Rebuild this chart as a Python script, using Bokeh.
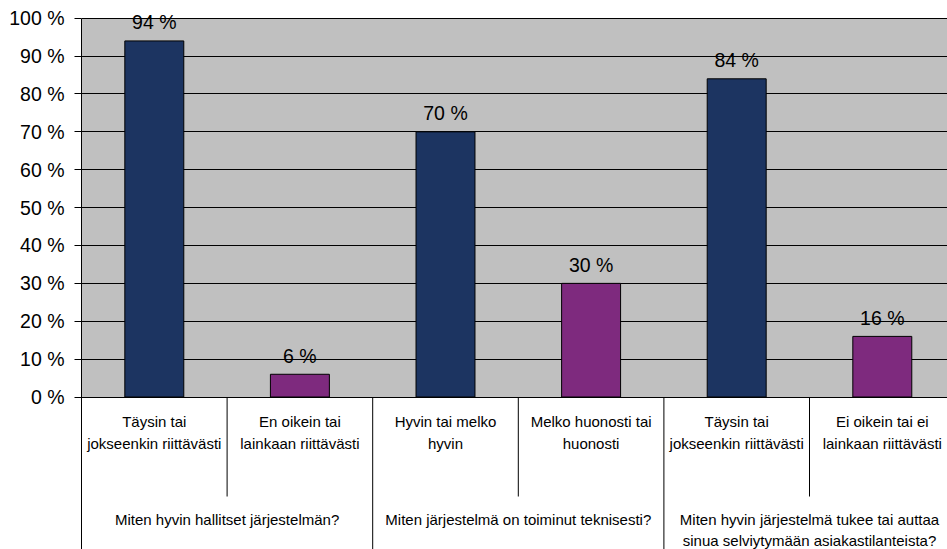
from bokeh.plotting import figure
from bokeh.models import Range1d, FixedTicker, ColumnDataSource
from bokeh.embed import file_html
from bokeh.resources import INLINE
from bokeh.core.properties import value

# ---- data ----
answers = [
    "Täysin tai\njokseenkin riittävästi",
    "En oikein tai\nlainkaan riittävästi",
    "Hyvin tai melko\nhyvin",
    "Melko huonosti tai\nhuonosti",
    "Täysin tai\njokseenkin riittävästi",
    "Ei oikein tai ei\nlainkaan riittävästi",
]
percent = [94, 6, 70, 30, 84, 16]
questions = [
    "Miten hyvin hallitset järjestelmän?",
    "Miten järjestelmä on toiminut teknisesti?",
    "Miten hyvin järjestelmä tukee tai auttaa\nsinua selviytymään asiakastilanteista?",
]
y_ticks = [0, 10, 20, 30, 40, 50, 60, 70, 80, 90, 100]
y_tick_labels = [f"{t} %" for t in y_ticks]

# ---- layout / style ----
W, H = 947, 549
LEFT = 81            # left edge of the plot area (px)
ZERO_PX = 396.5      # screen y of 0 %
TOP_PX = 17.7        # screen y of 100 %
SCALE = (ZERO_PX - TOP_PX) / 100.0   # px per percent
CAT_W = 145.6        # px per category
FONT = value("Liberation Sans")
NAVY = "#1c3461"
PURPLE = "#7e2a7e"
PLOT_BG = "#c0c0c0"


def below_zero(px):
    """Data y for a point px pixels below the 0 % line."""
    return -px / SCALE


x_end = (W - LEFT) / CAT_W
y_start = below_zero(H - ZERO_PX)
y_end = ZERO_PX / SCALE

p = figure(
    width=W, height=H,
    x_range=Range1d(0, x_end), y_range=Range1d(y_start, y_end),
    x_axis_location=None,
    output_backend="svg", toolbar_location=None,
    min_border_left=LEFT, min_border_right=0,
    min_border_top=0, min_border_bottom=0,
    background_fill_color="white", border_fill_color="white",
    outline_line_color=None,
)

n = len(percent)
centers = [i + 0.5 for i in range(n)]
colors = [NAVY if i % 2 == 0 else PURPLE for i in range(n)]

# gray plot area behind the grid
p.quad(left=0, right=n, bottom=0, top=100, fill_color=PLOT_BG,
       line_color=None, level="image")

# y axis
ax = p.yaxis[0]
ax.ticker = FixedTicker(ticks=y_ticks)
ax.major_label_overrides = dict(zip(y_ticks, y_tick_labels))
ax.bounds = (y_start, 100)
ax.axis_line_color = "black"
ax.axis_line_width = 1
ax.major_tick_line_color = "black"
ax.major_tick_out = 7
ax.major_tick_in = 0
ax.minor_tick_out = 0
ax.minor_tick_in = 0
ax.major_label_text_font = "Liberation Sans"
ax.major_label_text_font_size = "19.5px"
ax.major_label_text_color = "black"
ax.major_label_standoff = 10

for g in p.grid:
    if g.dimension == 0:
        g.visible = False
    else:
        g.grid_line_color = "black"
        g.grid_line_width = 1

# bars
src = ColumnDataSource(dict(x=centers, top=percent, color=colors))
p.vbar(x="x", top="top", bottom=0, width=0.405, source=src,
       fill_color="color", line_color="black", line_width=1)

# value labels above bars
p.text(x=centers, y=[v + 18.5 / SCALE for v in percent],
       text=[f"{v} %" for v in percent],
       text_align="center", text_baseline="alphabetic",
       text_font=FONT, text_font_size="19.5px", text_color="black")

# answer labels under each bar
ax_x, ax_y, ax_t = [], [], []
for i, lab in enumerate(answers):
    for j, line in enumerate(lab.split("\n")):
        ax_x.append(centers[i])
        ax_y.append(below_zero(24.5 + 22.0 * j))
        ax_t.append(line)
p.text(x=ax_x, y=ax_y, text=ax_t, text_align="center",
       text_baseline="alphabetic", text_font=FONT,
       text_font_size="15px", text_color="black")

# question labels under each pair
q_x, q_y, q_t = [], [], []
for k, q in enumerate(questions):
    for j, line in enumerate(q.split("\n")):
        q_x.append(2 * k + 1)
        q_y.append(below_zero(122.0 + 21.0 * j))
        q_t.append(line)
p.text(x=q_x, y=q_y, text=q_t, text_align="center",
       text_baseline="alphabetic", text_font=FONT,
       text_font_size="15px", text_color="black")

# separators: short ones between answers, long ones between questions
inner = [i for i in range(1, n) if i % 2 == 1]
outer = [i for i in range(1, n + 1) if i % 2 == 0]
p.segment(x0=inner, x1=inner, y0=[0] * len(inner),
          y1=[below_zero(99.5)] * len(inner), line_color="black", line_width=1)
p.segment(x0=outer, x1=outer, y0=[0] * len(outer),
          y1=[y_start] * len(outer), line_color="black", line_width=1)

open("out.html", "w").write(file_html(p, INLINE))
